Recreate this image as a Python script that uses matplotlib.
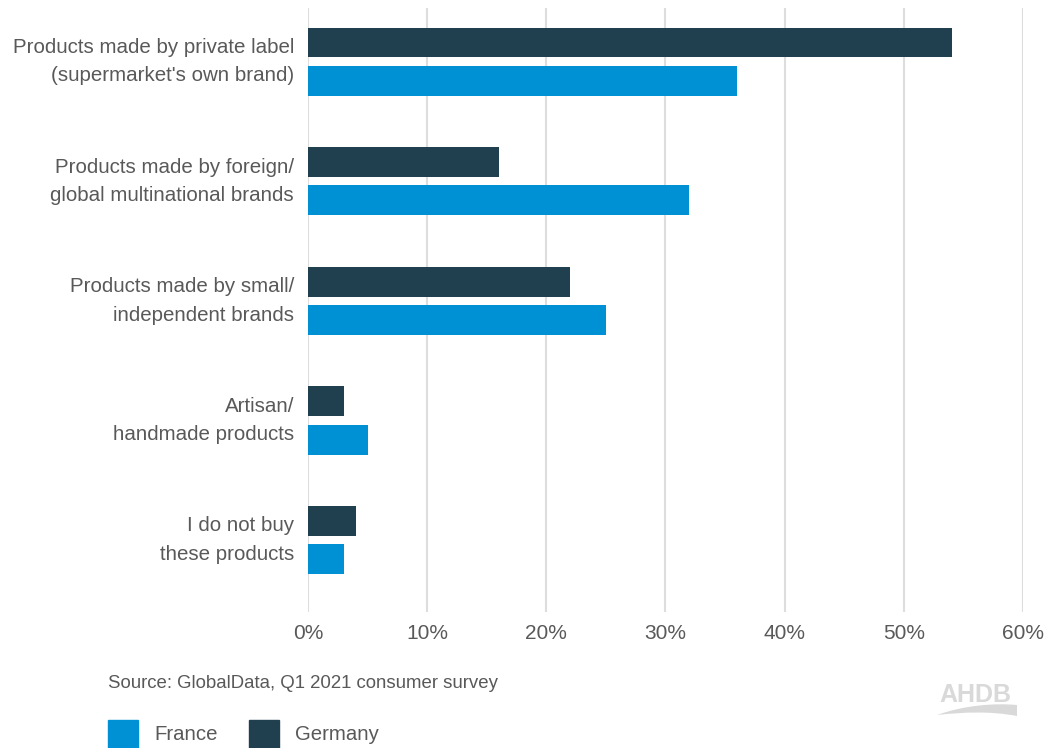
import matplotlib.pyplot as plt
import numpy as np
from matplotlib.patches import Rectangle, PathPatch
from matplotlib.path import Path

plt.rcParams['font.family'] = ['Liberation Sans', 'DejaVu Sans']

categories = [
    "Products made by private label\n(supermarket's own brand)",
    "Products made by foreign/\nglobal multinational brands",
    "Products made by small/\nindependent brands",
    "Artisan/\nhandmade products",
    "I do not buy\nthese products",
]
germany = [54, 16, 22, 3, 4]
france = [36, 32, 25, 5, 3]
xticks = [0, 10, 20, 30, 40, 50, 60]

c_fr = '#0091d5'
c_de = '#21404f'
txt = '#595959'

fig = plt.figure(figsize=(10.51, 7.48), dpi=100)
ax = fig.add_axes([0.293, 0.182, 0.6804, 0.8075])

y = np.arange(len(categories))
h = 0.25
off = 0.16
ax.barh(y - off, germany, height=h, color=c_de, zorder=3)
ax.barh(y + off, france, height=h, color=c_fr, zorder=3)

ax.set_xlim(0, 60)
ax.set_ylim(4.6, -0.45)
ax.set_xticks(xticks)
ax.set_xticklabels([f'{v}%' for v in xticks], fontsize=15, color=txt)
ax.set_yticks(y)
ax.set_yticklabels(categories, fontsize=14.8, color=txt, linespacing=1.62)
for lab in ax.get_yticklabels():
    lab.set_va('center')
ax.tick_params(axis='both', length=0)
ax.tick_params(axis='x', pad=9)
ax.tick_params(axis='y', pad=10)
ax.grid(axis='x', color='#dddddd', linewidth=1.5, zorder=0)
for s in ax.spines.values():
    s.set_visible(False)

fig.text(108 / 1051, 1 - 684 / 748, 'Source: GlobalData, Q1 2021 consumer survey',
         fontsize=13.4, color=txt, va='center', ha='left')

# legend
W, H = 1051, 748
for x0, col, lab in [(108, c_fr, 'France'), (249, c_de, 'Germany')]:
    fig.add_artist(Rectangle((x0 / W, 1 - 748 / H), 30 / W, 28 / H,
                             transform=fig.transFigure, color=col))
    fig.text((x0 + 46) / W, 1 - 734 / H, lab, fontsize=14.7, color=txt,
             va='center', ha='left')

# AHDB mark
logo = '#d9d9d9'
fig.text(975 / W, 1 - 695 / H, 'AHDB', fontsize=18, fontweight='bold',
         color=logo, ha='center', va='center')
verts = [(937, 715), (965, 705), (995, 703), (1017, 705),
         (1017, 716), (990, 711), (965, 712), (937, 715)]
codes = [Path.MOVETO, Path.CURVE4, Path.CURVE4, Path.CURVE4,
         Path.LINETO, Path.CURVE4, Path.CURVE4, Path.CURVE4]
verts = [(vx / W, 1 - vy / H) for vx, vy in verts]
fig.add_artist(PathPatch(Path(verts, codes), transform=fig.transFigure,
                         facecolor=logo, edgecolor='none'))

fig.savefig('out.png', dpi=100)
